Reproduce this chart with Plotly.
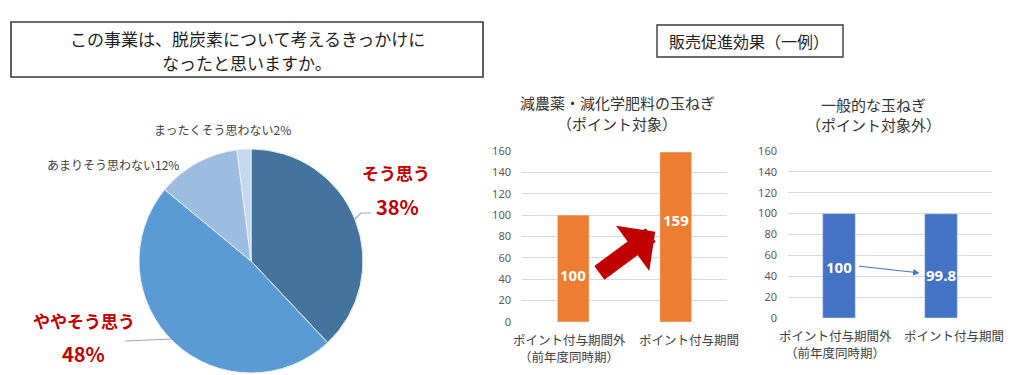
import plotly.graph_objects as go

# ---- data ----
pie_labels = ["そう思う", "ややそう思う", "あまりそう思わない", "まったくそう思わない"]
pie_values = [38, 48, 12, 2]
pie_colors = ["#44739E", "#5B9BD5", "#9DBCE2", "#C6D8EF"]

bar_categories = ["ポイント付与期間外<br>（前年度同時期）", "ポイント付与期間"]
target_values = [100, 159]      # 減農薬・減化学肥料の玉ねぎ
general_values = [100, 99.8]    # 一般的な玉ねぎ
y_ticks = [0, 20, 40, 60, 80, 100, 120, 140, 160]

W, H = 1024, 375
FONT = "Noto Sans CJK JP"


def px(x):
    return x / W


def py(y):
    return 1 - y / H


fig = go.Figure()

# ---- pie ----
fig.add_trace(go.Pie(
    labels=pie_labels, values=pie_values, sort=False, direction="clockwise",
    rotation=0, marker=dict(colors=pie_colors, line=dict(color="#E8EEF5", width=1)),
    textinfo="none", hoverinfo="label+percent", showlegend=False,
    domain=dict(x=[px(139), px(363)], y=[py(373), py(149)]),
))

# ---- bars ----
fig.add_trace(go.Bar(x=bar_categories, y=target_values, marker_color="#ED7D31",
                     width=0.31, xaxis="x", yaxis="y", showlegend=False, hoverinfo="y"))
fig.add_trace(go.Bar(x=bar_categories, y=general_values, marker_color="#4472C4",
                     width=0.32, xaxis="x2", yaxis="y2", showlegend=False, hoverinfo="y"))

axis_common = dict(showline=False, zeroline=False, ticks="", automargin=False,
                   showticklabels=False)
yaxis_common = dict(range=[0, 160], tickvals=y_ticks, showgrid=True, gridcolor="#D9D9D9",
                    gridwidth=1, zeroline=False, showline=False, ticks="", ticklabelstandoff=10,
                    automargin=False,
                    tickfont=dict(family="Noto Sans", size=11, color="#595959"))

fig.update_layout(
    width=W, height=H, margin=dict(l=0, r=0, t=0, b=0, autoexpand=False),
    paper_bgcolor="white", plot_bgcolor="white",
    font=dict(family=FONT),
    xaxis=dict(domain=[px(522), px(727)], range=[-0.5, 1.5], **axis_common),
    yaxis=dict(domain=[py(322), py(151)], **yaxis_common),
    xaxis2=dict(domain=[px(788), px(992)], range=[-0.5, 1.5], anchor="y2", **axis_common),
    yaxis2=dict(domain=[py(318), py(151)], anchor="x2", **yaxis_common),
)

shapes = [
    # title boxes
    dict(type="rect", xref="paper", yref="paper", x0=px(11), x1=px(483), y0=py(77), y1=py(22),
         line=dict(color="#3A3A3A", width=1.6)),
    dict(type="rect", xref="paper", yref="paper", x0=px(657), x1=px(843), y0=py(57), y1=py(25),
         line=dict(color="#3A3A3A", width=1.4)),
    # pie leader lines
    dict(type="path", xref="paper", yref="paper",
         path=f"M{px(355)},{py(219)} L{px(361)},{py(213)} L{px(371)},{py(213)}",
         line=dict(color="#A6A6A6", width=1.2)),
    dict(type="line", xref="paper", yref="paper", x0=px(125), y0=py(341), x1=px(172), y1=py(339),
         line=dict(color="#A6A6A6", width=1.2)),
]
fig.update_layout(shapes=shapes)

ann = []


def t(x, y, text, size, color="#262626", bold=False, family=FONT):
    ann.append(dict(xref="paper", yref="paper", x=px(x), y=py(y), text=f"<b>{text}</b>" if bold else text,
                    showarrow=False, xanchor="center", yanchor="middle",
                    font=dict(family=family, size=size, color=color)))


t(247, 39, "この事業は、脱炭素について考えるきっかけに", 17, "#1F1F1F")
t(247, 62, "なったと思いますか。", 17, "#1F1F1F")
t(749, 41, "販売促進効果（一例）", 16, "#1F1F1F")

t(617, 103, "減農薬・減化学肥料の玉ねぎ", 15, "#333333")
t(617, 123, "（ポイント対象）", 15, "#333333")
t(873, 104, "一般的な玉ねぎ", 15, "#333333")
t(873, 124, "（ポイント対象外）", 15, "#333333")

red = "#C00000"
t(396, 172, f"{pie_labels[0]}", 17, red, bold=True)
t(397, 206, f"{pie_values[0]}%", 20, red, bold=True)
t(84, 320, f"{pie_labels[1]}", 17, red, bold=True)
t(83, 353, f"{pie_values[1]}%", 20, red, bold=True)
t(113, 165, f"{pie_labels[2]}{pie_values[2]}%", 12, "#404040")
t(222, 129, f"{pie_labels[3]}{pie_values[3]}%", 12, "#404040")

# category labels under the bars (placed on the category axis, one line each)
cat_shift = [-4, 13]
for ax_ref, ay_ref in (("x", "y"), ("x2", "y2")):
    for i, c in enumerate(bar_categories):
        for j, line in enumerate(c.split("<br>")):
            ann.append(dict(xref=ax_ref, yref=f"{ay_ref} domain", x=c, y=0, yshift=-6 - 17 * j,
                            xshift=cat_shift[i], text=line, showarrow=False, yanchor="top",
                            xanchor="center",
                            font=dict(family=FONT, size=12.5, color="#404040")))

# bar value labels (inside the bars)
label_y_left = [44, 95.5]
label_y_right = [49, 41]
for i, c in enumerate(bar_categories):
    ann.append(dict(xref="x", yref="y", x=c, y=label_y_left[i], text=f"<b>{target_values[i]:g}</b>",
                    showarrow=False, font=dict(family="Noto Sans", size=15, color="white")))
    ann.append(dict(xref="x2", yref="y2", x=c, y=label_y_right[i], text=f"<b>{general_values[i]:g}</b>",
                    showarrow=False, font=dict(family="Noto Sans", size=15, color="white")))

# red growth arrow
ann.append(dict(xref="x", yref="y", axref="x", ayref="y", x=0.80, y=84.5, ax=0.24, ay=45.0,
                text="", showarrow=True, arrowhead=1, arrowsize=0.55, arrowwidth=17,
                arrowcolor="#C00000", standoff=0))
# thin blue arrow
ann.append(dict(xref="x2", yref="y2", axref="x2", ayref="y2", x=0.79, y=43.2, ax=0.18, ay=49.8,
                text="", showarrow=True, arrowhead=2, arrowsize=1.3, arrowwidth=1,
                arrowcolor="#4472C4", standoff=0))

fig.update_layout(annotations=ann)

fig.write_html("out.html", config={"displayModeBar": False},
               post_script="document.body.style.margin='0';")
